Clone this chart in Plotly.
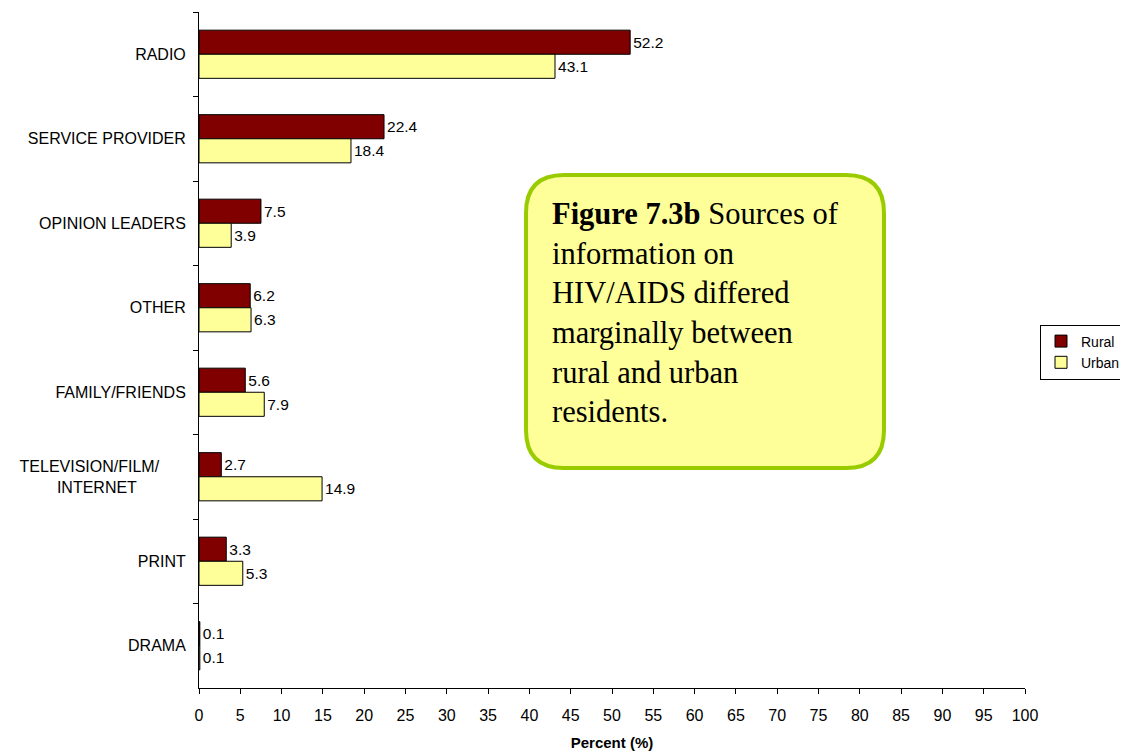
import plotly.graph_objects as go

categories = ["RADIO", "SERVICE PROVIDER", "OPINION LEADERS", "OTHER", "FAMILY/FRIENDS",
              "TELEVISION/FILM/\u00a0\u00a0\u00a0\u00a0\u00a0\u00a0<br>INTERNET" + "\u00a0" * 11,
              "PRINT", "DRAMA"]
rural = [52.2, 22.4, 7.5, 6.2, 5.6, 2.7, 3.3, 0.1]
urban = [43.1, 18.4, 3.9, 6.3, 7.9, 14.9, 5.3, 0.1]
x_ticks = list(range(0, 101, 5))

# page has an 8px body margin; work in page pixel coordinates
OFF = 8
W, H = 1128 - OFF, 754 - OFF
plot_left, plot_right, plot_top, plot_bottom = 199, 1025, 12, 688
L = plot_left - OFF
R = W - (plot_right - OFF)
T = plot_top - OFF
B = H - (plot_bottom - OFF)
pw, ph = plot_right - plot_left, plot_bottom - plot_top

def px(x):
    return (x - plot_left) / pw

def py(y):
    return (plot_bottom - y) / ph

font = "Liberation Sans, Arial, sans-serif"

fig = go.Figure()
fig.add_trace(go.Bar(
    y=categories, x=rural, name="Rural", orientation="h",
    marker=dict(color="#800000", line=dict(color="black", width=1)),
    text=[f"{v:.1f}" for v in rural], textposition="outside",
    textfont=dict(size=15.5, color="black", family=font), cliponaxis=False,
))
fig.add_trace(go.Bar(
    y=categories, x=urban, name="Urban", orientation="h",
    marker=dict(color="#ffff99", line=dict(color="black", width=1)),
    text=[f"{v:.1f}" for v in urban], textposition="outside",
    textfont=dict(size=15.5, color="black", family=font), cliponaxis=False,
))

# rounded box (page pixel coordinates)
x0, x1, y0, y1 = 526, 884, 175, 468
r = 38
path = (f"M {px(x0 + r)} {py(y0)} L {px(x1 - r)} {py(y0)} "
        f"Q {px(x1)} {py(y0)} {px(x1)} {py(y0 + r)} "
        f"L {px(x1)} {py(y1 - r)} Q {px(x1)} {py(y1)} {px(x1 - r)} {py(y1)} "
        f"L {px(x0 + r)} {py(y1)} Q {px(x0)} {py(y1)} {px(x0)} {py(y1 - r)} "
        f"L {px(x0)} {py(y0 + r)} Q {px(x0)} {py(y0)} {px(x0 + r)} {py(y0)} Z")

fig.update_layout(
    width=W, height=H,
    margin=dict(l=L, r=R, t=T, b=B, autoexpand=False),
    paper_bgcolor="white", plot_bgcolor="white",
    barmode="group", bargap=0.43, bargroupgap=0,
    font=dict(family=font, size=16, color="black"),
    xaxis=dict(range=[0, 100], tickvals=x_ticks, showline=True, linecolor="black",
               linewidth=1, ticks="outside", ticklen=5, tickcolor="black",
               showgrid=False, zeroline=False, tickfont=dict(size=16), automargin=False,
               ticklabelstandoff=8,
               title=dict(text="<b>Percent (%)</b>", font=dict(size=15), standoff=14)),
    yaxis=dict(range=[7.5, -0.5], showline=True, linecolor="black", linewidth=1,
               ticks="outside", ticklen=5, tickcolor="black", tickson="boundaries",
               showgrid=False, zeroline=False, tickfont=dict(size=16), automargin=False,
               ticklabelstandoff=9),
    legend=dict(x=px(1126), xanchor="right", y=py(352), yanchor="middle",
                bordercolor="black", borderwidth=1, font=dict(size=14),
                itemwidth=30, tracegroupgap=0),
    shapes=[dict(type="path", xref="paper", yref="paper", path=path,
                 fillcolor="#ffff99", line=dict(color="#99cc00", width=4))],
    annotations=[dict(
        xref="paper", yref="paper", x=px(550), y=py(195), xanchor="left", yanchor="top",
        align="left", showarrow=False,
        font=dict(family="Liberation Serif, Times New Roman, serif", size=30.5, color="black"),
        text=("<b>Figure 7.3b</b> Sources of<br>information on<br>HIV/AIDS differed<br>"
              "marginally between<br>rural and urban<br>residents."),
    )],
)

fig.write_html("out.html")
